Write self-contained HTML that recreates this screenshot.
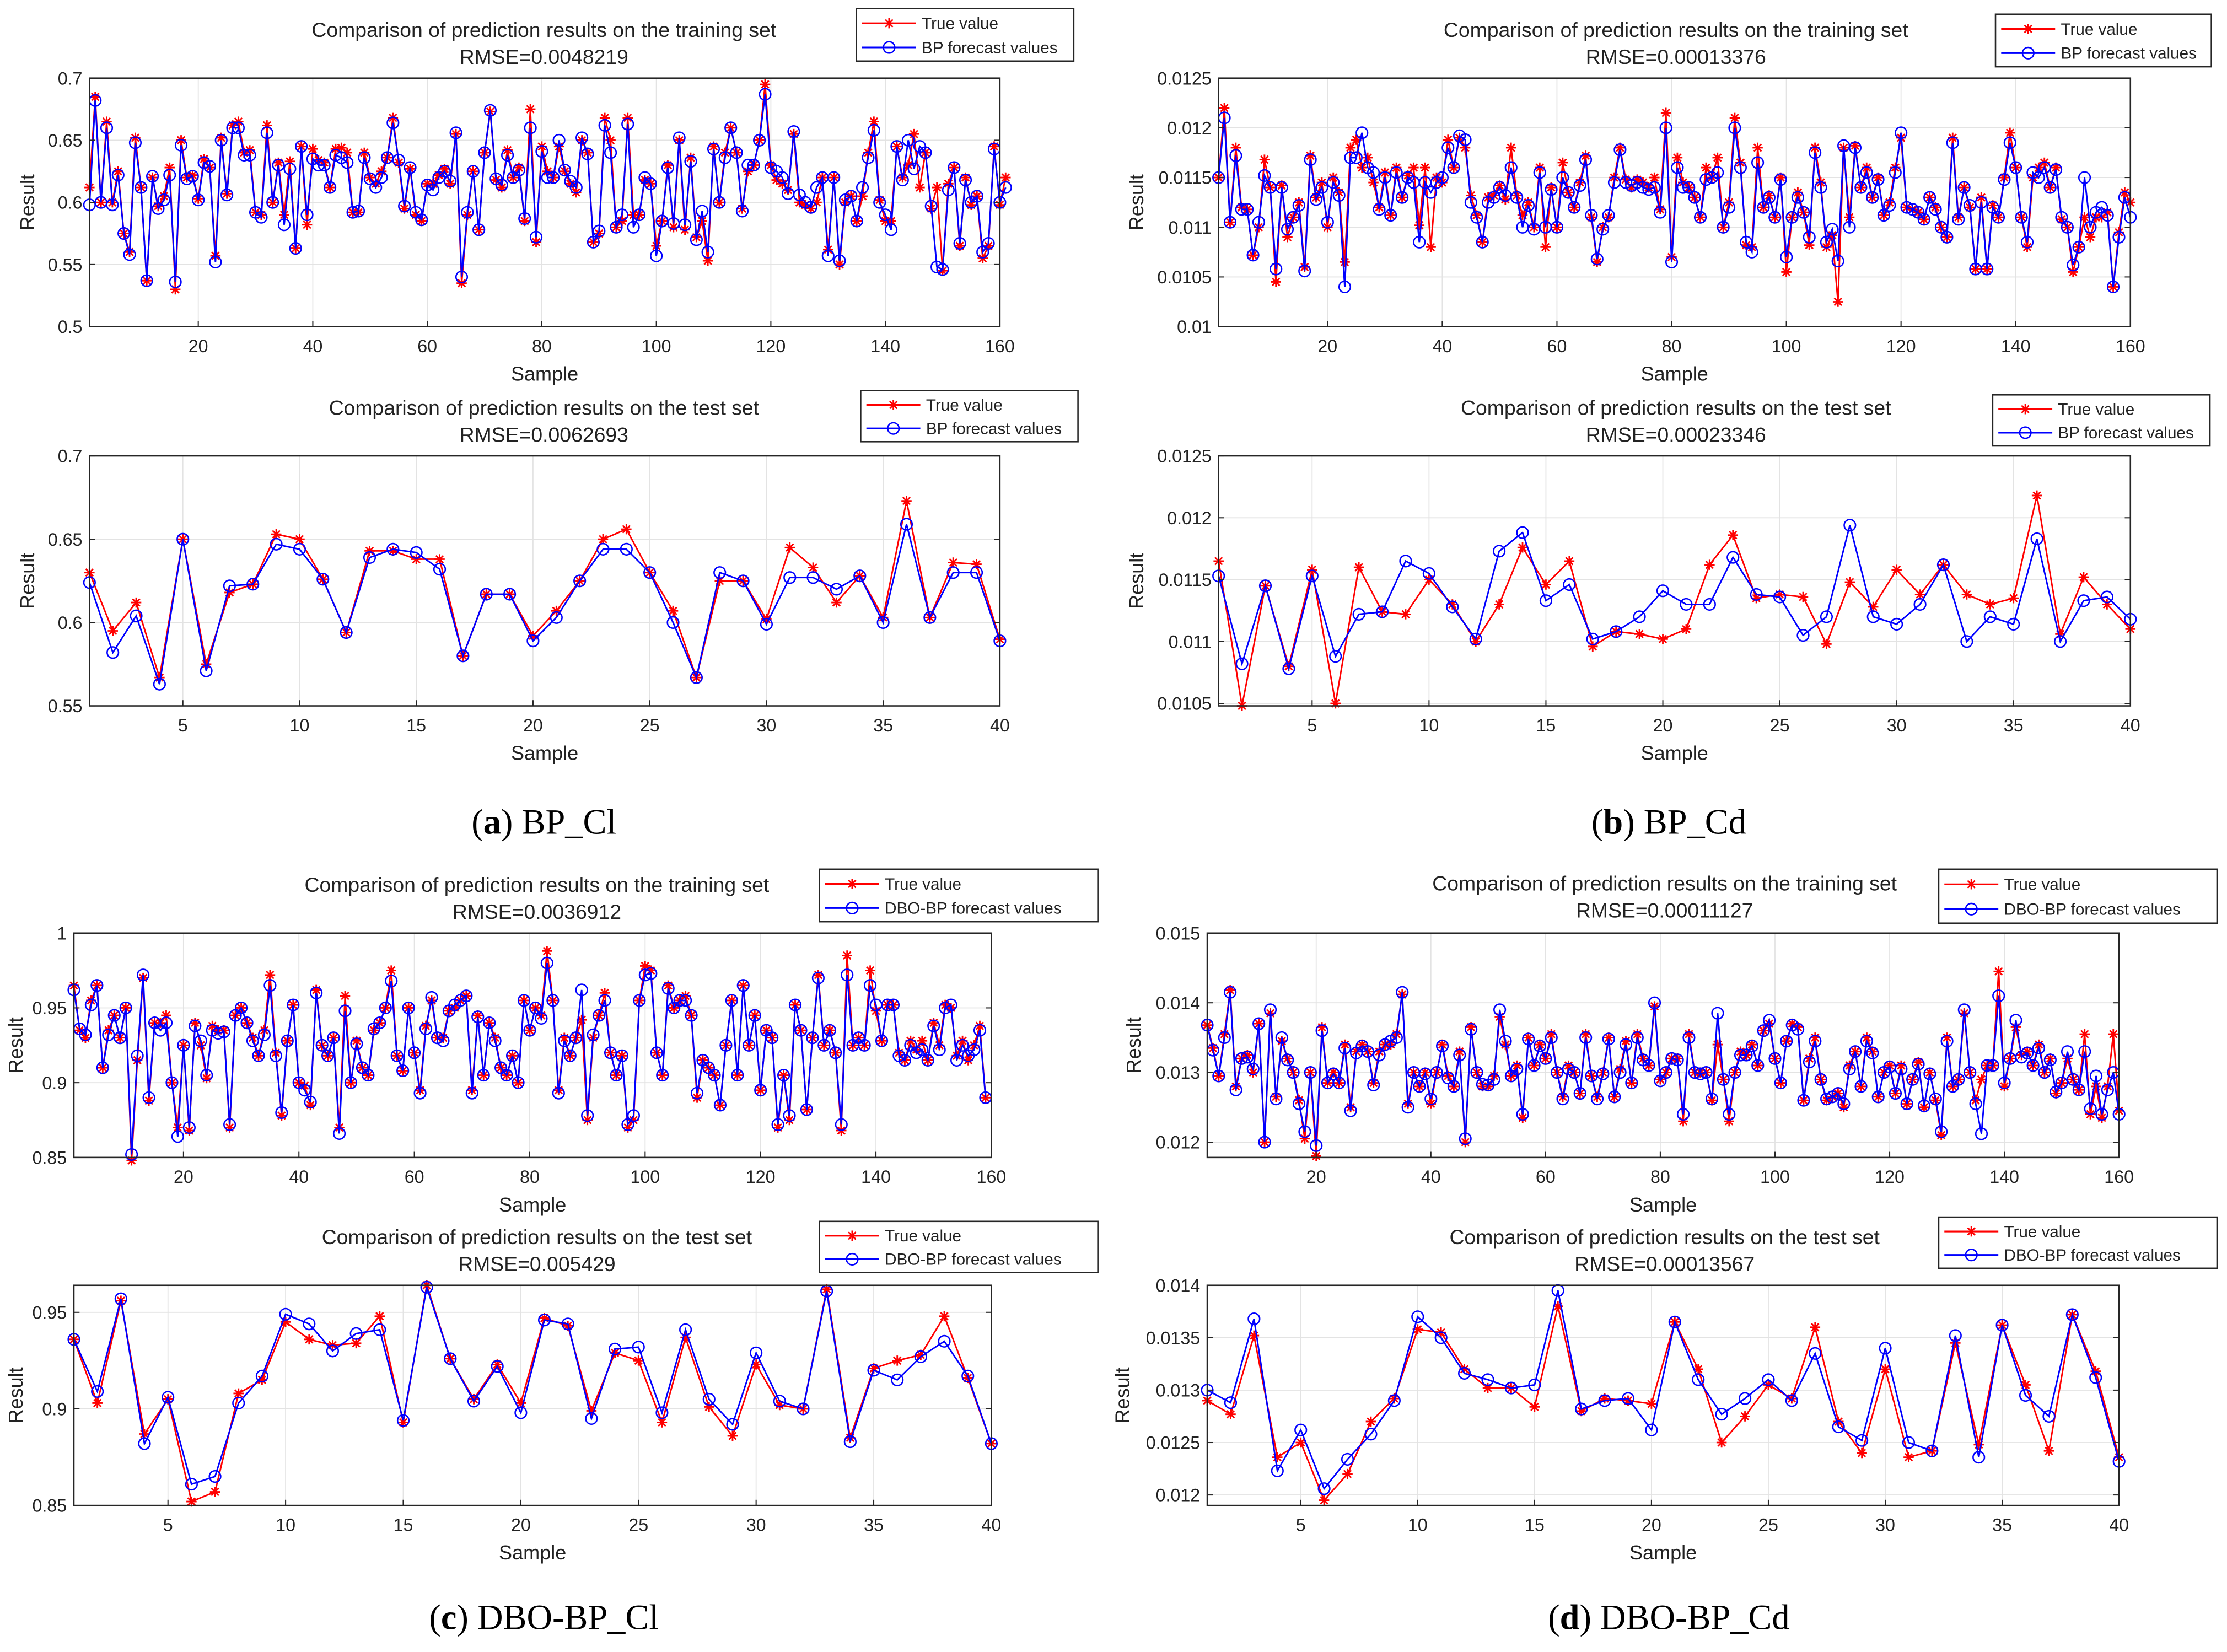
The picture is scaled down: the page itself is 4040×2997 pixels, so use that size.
<!DOCTYPE html>
<html><head><meta charset="utf-8"><title>BP and DBO-BP prediction comparison</title>
<style>
html,body{margin:0;padding:0;background:#fff;}
svg{display:block;}
text{font-family:"Liberation Sans",Arial,sans-serif;fill:#222;}
.cap{font-family:"Liberation Serif","Times New Roman",serif;fill:#000;}
</style></head>
<body>
<svg id="fig" xmlns="http://www.w3.org/2000/svg" width="4040" height="2997" viewBox="0 0 1568 1163.2">
<rect x="0" y="0" width="1568" height="1163.2" fill="#fff"/>
<text class="cap" x="383" y="587" font-size="25" text-anchor="middle">(<tspan font-weight="bold">a</tspan>) BP_Cl</text>
<text class="cap" x="1175" y="587" font-size="25" text-anchor="middle">(<tspan font-weight="bold">b</tspan>) BP_Cd</text>
<text class="cap" x="383" y="1147" font-size="25" text-anchor="middle">(<tspan font-weight="bold">c</tspan>) DBO-BP_Cl</text>
<text class="cap" x="1175" y="1147" font-size="25" text-anchor="middle">(<tspan font-weight="bold">d</tspan>) DBO-BP_Cd</text>
</svg>
<script>
// ---- data ----
const aTrainTrue=[0.612,0.685,0.600,0.665,0.600,0.625,0.575,0.560,0.652,0.612,0.537,0.620,0.597,0.605,0.628,0.530,0.650,0.620,0.622,0.603,0.635,0.628,0.557,0.652,0.607,0.662,0.665,0.640,0.642,0.592,0.590,0.662,0.600,0.632,0.590,0.633,0.563,0.645,0.582,0.643,0.634,0.632,0.612,0.643,0.644,0.640,0.592,0.592,0.640,0.620,0.615,0.625,0.636,0.668,0.632,0.595,0.627,0.590,0.585,0.615,0.615,0.622,0.627,0.615,0.655,0.535,0.590,0.625,0.578,0.640,0.673,0.618,0.612,0.642,0.620,0.628,0.585,0.675,0.568,0.645,0.625,0.620,0.645,0.625,0.615,0.608,0.650,0.640,0.568,0.575,0.668,0.650,0.580,0.585,0.668,0.590,0.590,0.618,0.615,0.565,0.585,0.630,0.580,0.650,0.578,0.636,0.572,0.585,0.553,0.645,0.600,0.640,0.660,0.640,0.595,0.625,0.630,0.650,0.695,0.630,0.618,0.615,0.610,0.655,0.600,0.598,0.595,0.600,0.620,0.562,0.620,0.550,0.600,0.605,0.585,0.605,0.640,0.665,0.602,0.585,0.585,0.645,0.620,0.630,0.655,0.612,0.640,0.595,0.612,0.545,0.615,0.628,0.565,0.620,0.598,0.605,0.555,0.565,0.645,0.598,0.620];
const aTrainPred=[0.598,0.682,0.600,0.660,0.598,0.622,0.575,0.558,0.648,0.612,0.537,0.621,0.595,0.602,0.622,0.536,0.646,0.619,0.621,0.602,0.632,0.629,0.552,0.650,0.606,0.660,0.660,0.638,0.638,0.592,0.588,0.656,0.600,0.630,0.582,0.627,0.563,0.645,0.590,0.635,0.630,0.630,0.612,0.638,0.636,0.632,0.592,0.593,0.636,0.619,0.612,0.620,0.636,0.664,0.634,0.597,0.628,0.592,0.586,0.614,0.610,0.620,0.625,0.617,0.656,0.540,0.592,0.625,0.578,0.640,0.674,0.619,0.614,0.638,0.620,0.626,0.587,0.660,0.572,0.641,0.620,0.620,0.650,0.626,0.617,0.612,0.652,0.639,0.568,0.577,0.662,0.640,0.580,0.590,0.663,0.580,0.590,0.620,0.615,0.557,0.585,0.628,0.583,0.652,0.582,0.633,0.570,0.593,0.560,0.643,0.600,0.636,0.660,0.640,0.593,0.630,0.630,0.650,0.687,0.628,0.625,0.620,0.607,0.657,0.606,0.600,0.596,0.612,0.620,0.557,0.620,0.553,0.602,0.605,0.585,0.612,0.636,0.658,0.600,0.590,0.578,0.645,0.618,0.650,0.627,0.645,0.640,0.597,0.548,0.546,0.610,0.628,0.567,0.618,0.600,0.605,0.560,0.567,0.643,0.600,0.612];
const aTestTrue=[0.630,0.595,0.612,0.567,0.650,0.575,0.618,0.623,0.653,0.650,0.626,0.594,0.643,0.643,0.638,0.638,0.580,0.617,0.617,0.592,0.607,0.625,0.650,0.656,0.630,0.607,0.567,0.625,0.625,0.602,0.645,0.633,0.612,0.628,0.603,0.673,0.603,0.636,0.635,0.590];
const aTestPred=[0.624,0.582,0.604,0.563,0.650,0.571,0.622,0.623,0.647,0.644,0.626,0.594,0.639,0.644,0.642,0.632,0.580,0.617,0.617,0.589,0.603,0.625,0.644,0.644,0.630,0.600,0.567,0.630,0.625,0.599,0.627,0.627,0.620,0.628,0.600,0.659,0.603,0.630,0.630,0.589];

const bTrainTrue=[0.01150,0.01220,0.01105,0.01180,0.01120,0.01118,0.01072,0.01100,0.01168,0.01140,0.01045,0.01142,0.01090,0.01110,0.01125,0.01060,0.01172,0.01130,0.01145,0.01100,0.01150,0.01135,0.01065,0.01180,0.01188,0.01160,0.01170,0.01145,0.01120,0.01155,0.01112,0.01160,0.01130,0.01152,0.01160,0.01102,0.01160,0.01080,0.01150,0.01145,0.01188,0.01160,0.01190,0.01180,0.01132,0.01112,0.01085,0.01130,0.01132,0.01142,0.01128,0.01180,0.01132,0.01112,0.01125,0.01100,0.01160,0.01080,0.01140,0.01100,0.01165,0.01135,0.01120,0.01145,0.01172,0.01110,0.01065,0.01100,0.01110,0.01150,0.01180,0.01148,0.01140,0.01148,0.01145,0.01140,0.01150,0.01118,0.01215,0.01070,0.01170,0.01145,0.01140,0.01130,0.01110,0.01160,0.01150,0.01170,0.01100,0.01125,0.01210,0.01165,0.01082,0.01080,0.01180,0.01120,0.01132,0.01110,0.01150,0.01055,0.01110,0.01135,0.01115,0.01082,0.01180,0.01145,0.01080,0.01092,0.01025,0.01180,0.01110,0.01182,0.01140,0.01160,0.01130,0.01150,0.01112,0.01125,0.01160,0.01190,0.01120,0.01118,0.01115,0.01108,0.01130,0.01120,0.01100,0.01090,0.01190,0.01110,0.01140,0.01120,0.01058,0.01130,0.01058,0.01122,0.01110,0.01150,0.01195,0.01160,0.01110,0.01080,0.01150,0.01160,0.01165,0.01140,0.01160,0.01108,0.01100,0.01055,0.01080,0.01110,0.01090,0.01110,0.01110,0.01115,0.01040,0.01095,0.01135,0.01125];
const bTrainPred=[0.01150,0.01210,0.01105,0.01172,0.01118,0.01118,0.01072,0.01105,0.01152,0.01140,0.01058,0.01140,0.01098,0.01110,0.01122,0.01056,0.01168,0.01128,0.01140,0.01105,0.01145,0.01132,0.01040,0.01170,0.01170,0.01195,0.01160,0.01155,0.01118,0.01150,0.01112,0.01155,0.01130,0.01150,0.01145,0.01085,0.01145,0.01135,0.01145,0.01150,0.01180,0.01160,0.01192,0.01188,0.01125,0.01110,0.01085,0.01125,0.01130,0.01140,0.01132,0.01160,0.01130,0.01100,0.01122,0.01098,0.01155,0.01100,0.01138,0.01100,0.01150,0.01135,0.01120,0.01142,0.01168,0.01112,0.01068,0.01098,0.01112,0.01145,0.01178,0.01145,0.01142,0.01145,0.01140,0.01138,0.01140,0.01115,0.01200,0.01065,0.01160,0.01140,0.01140,0.01130,0.01110,0.01148,0.01150,0.01155,0.01100,0.01120,0.01200,0.01160,0.01085,0.01075,0.01165,0.01120,0.01130,0.01110,0.01148,0.01070,0.01110,0.01130,0.01115,0.01090,0.01175,0.01140,0.01085,0.01098,0.01066,0.01182,0.01100,0.01180,0.01140,0.01155,0.01130,0.01148,0.01112,0.01122,0.01155,0.01195,0.01120,0.01118,0.01115,0.01108,0.01130,0.01118,0.01100,0.01090,0.01185,0.01108,0.01140,0.01122,0.01058,0.01125,0.01058,0.01120,0.01110,0.01148,0.01185,0.01160,0.01110,0.01085,0.01155,0.01150,0.01160,0.01140,0.01158,0.01110,0.01100,0.01062,0.01080,0.01150,0.01100,0.01115,0.01120,0.01112,0.01040,0.01090,0.01130,0.01110];
const bTestTrue=[0.01165,0.01048,0.01145,0.01080,0.01158,0.01050,0.01160,0.01124,0.01122,0.01150,0.01130,0.01100,0.01130,0.01176,0.01146,0.01165,0.01096,0.01108,0.01106,0.01102,0.01110,0.01162,0.01186,0.01135,0.01138,0.01136,0.01098,0.01148,0.01128,0.01158,0.01138,0.01162,0.01138,0.01130,0.01135,0.01218,0.01106,0.01152,0.01130,0.01110];
const bTestPred=[0.01153,0.01082,0.01145,0.01078,0.01153,0.01088,0.01122,0.01124,0.01165,0.01155,0.01128,0.01102,0.01173,0.01188,0.01133,0.01146,0.01102,0.01108,0.01120,0.01141,0.01130,0.01130,0.01168,0.01138,0.01136,0.01105,0.01120,0.01194,0.01120,0.01114,0.01130,0.01162,0.01100,0.01120,0.01114,0.01183,0.01100,0.01133,0.01136,0.01118];

const cTrainTrue=[0.965,0.935,0.930,0.955,0.965,0.910,0.935,0.945,0.930,0.950,0.848,0.915,0.970,0.888,0.940,0.940,0.945,0.900,0.870,0.925,0.868,0.940,0.925,0.903,0.938,0.935,0.935,0.870,0.945,0.950,0.940,0.930,0.918,0.935,0.972,0.920,0.878,0.928,0.952,0.900,0.898,0.885,0.962,0.925,0.918,0.930,0.870,0.958,0.900,0.928,0.910,0.905,0.935,0.940,0.950,0.975,0.918,0.908,0.950,0.920,0.895,0.938,0.955,0.930,0.930,0.948,0.950,0.955,0.958,0.895,0.945,0.905,0.940,0.930,0.910,0.905,0.918,0.900,0.955,0.935,0.950,0.945,0.988,0.955,0.895,0.930,0.918,0.930,0.942,0.875,0.930,0.945,0.960,0.920,0.905,0.918,0.870,0.875,0.955,0.978,0.975,0.920,0.905,0.965,0.950,0.955,0.958,0.945,0.890,0.915,0.910,0.905,0.885,0.925,0.955,0.905,0.965,0.925,0.945,0.895,0.935,0.930,0.870,0.905,0.875,0.952,0.935,0.882,0.930,0.972,0.925,0.935,0.920,0.868,0.985,0.925,0.930,0.925,0.975,0.948,0.928,0.952,0.952,0.920,0.915,0.928,0.922,0.928,0.915,0.940,0.925,0.952,0.950,0.918,0.928,0.915,0.925,0.938,0.890];
const cTrainPred=[0.962,0.936,0.932,0.952,0.965,0.910,0.932,0.945,0.930,0.950,0.852,0.918,0.972,0.890,0.940,0.935,0.940,0.900,0.864,0.925,0.870,0.938,0.928,0.905,0.935,0.933,0.934,0.872,0.945,0.950,0.940,0.928,0.918,0.932,0.965,0.918,0.880,0.928,0.952,0.900,0.895,0.887,0.960,0.925,0.918,0.930,0.866,0.948,0.900,0.926,0.910,0.905,0.936,0.940,0.950,0.968,0.918,0.908,0.950,0.920,0.893,0.936,0.957,0.930,0.928,0.948,0.952,0.955,0.958,0.893,0.944,0.905,0.940,0.928,0.910,0.905,0.918,0.900,0.955,0.935,0.950,0.943,0.980,0.955,0.893,0.928,0.918,0.930,0.962,0.878,0.932,0.945,0.955,0.920,0.905,0.918,0.872,0.878,0.955,0.972,0.973,0.920,0.905,0.963,0.950,0.955,0.955,0.945,0.893,0.915,0.910,0.905,0.885,0.925,0.955,0.905,0.965,0.925,0.945,0.895,0.935,0.930,0.872,0.905,0.878,0.952,0.935,0.882,0.930,0.970,0.925,0.935,0.920,0.872,0.972,0.925,0.930,0.925,0.965,0.952,0.928,0.952,0.952,0.918,0.915,0.925,0.920,0.922,0.915,0.938,0.922,0.950,0.952,0.915,0.925,0.918,0.922,0.935,0.890];
const cTestTrue=[0.936,0.903,0.956,0.887,0.905,0.852,0.857,0.908,0.915,0.945,0.936,0.933,0.934,0.948,0.893,0.964,0.926,0.905,0.923,0.903,0.947,0.943,0.899,0.929,0.925,0.893,0.937,0.901,0.886,0.923,0.902,0.900,0.962,0.885,0.921,0.925,0.928,0.948,0.916,0.882];
const cTestPred=[0.936,0.909,0.957,0.882,0.906,0.861,0.865,0.903,0.917,0.949,0.944,0.930,0.939,0.941,0.894,0.963,0.926,0.904,0.922,0.898,0.946,0.944,0.895,0.931,0.932,0.898,0.941,0.905,0.892,0.929,0.904,0.900,0.961,0.883,0.920,0.915,0.927,0.935,0.917,0.882];

const dTrainTrue=[0.01368,0.01335,0.01295,0.01355,0.01418,0.01280,0.01320,0.01325,0.01300,0.01370,0.01200,0.01385,0.01265,0.01345,0.01320,0.01300,0.01260,0.01205,0.01300,0.01180,0.01365,0.01285,0.01300,0.01285,0.01340,0.01250,0.01330,0.01340,0.01330,0.01285,0.01330,0.01340,0.01340,0.01355,0.01412,0.01255,0.01300,0.01280,0.01300,0.01255,0.01300,0.01340,0.01295,0.01280,0.01330,0.01200,0.01365,0.01300,0.01280,0.01280,0.01295,0.01380,0.01340,0.01295,0.01310,0.01235,0.01350,0.01310,0.01340,0.01320,0.01355,0.01300,0.01265,0.01310,0.01300,0.01270,0.01355,0.01295,0.01265,0.01300,0.01350,0.01265,0.01305,0.01345,0.01285,0.01355,0.01320,0.01310,0.01395,0.01290,0.01300,0.01320,0.01320,0.01230,0.01355,0.01300,0.01300,0.01300,0.01260,0.01340,0.01290,0.01230,0.01300,0.01330,0.01325,0.01340,0.01310,0.01360,0.01370,0.01320,0.01285,0.01345,0.01370,0.01365,0.01260,0.01320,0.01350,0.01290,0.01260,0.01265,0.01270,0.01250,0.01310,0.01330,0.01280,0.01350,0.01330,0.01265,0.01300,0.01310,0.01270,0.01310,0.01255,0.01290,0.01315,0.01250,0.01300,0.01260,0.01210,0.01350,0.01280,0.01290,0.01385,0.01300,0.01260,0.01290,0.01310,0.01310,0.01445,0.01280,0.01320,0.01365,0.01325,0.01330,0.01310,0.01340,0.01300,0.01320,0.01270,0.01285,0.01320,0.01290,0.01275,0.01355,0.01240,0.01280,0.01235,0.01280,0.01355,0.01245];
const dTrainPred=[0.01368,0.01332,0.01295,0.01350,0.01415,0.01275,0.01320,0.01322,0.01305,0.01370,0.01200,0.01390,0.01262,0.01350,0.01318,0.01300,0.01255,0.01215,0.01300,0.01195,0.01360,0.01285,0.01298,0.01285,0.01335,0.01245,0.01328,0.01338,0.01330,0.01282,0.01325,0.01340,0.01345,0.01350,0.01415,0.01250,0.01300,0.01280,0.01298,0.01262,0.01300,0.01338,0.01292,0.01280,0.01325,0.01205,0.01362,0.01300,0.01283,0.01282,0.01290,0.01390,0.01345,0.01295,0.01305,0.01240,0.01348,0.01310,0.01338,0.01320,0.01350,0.01300,0.01262,0.01305,0.01300,0.01270,0.01350,0.01295,0.01262,0.01298,0.01348,0.01265,0.01300,0.01340,0.01285,0.01350,0.01318,0.01310,0.01400,0.01288,0.01300,0.01320,0.01318,0.01240,0.01350,0.01300,0.01298,0.01300,0.01262,0.01385,0.01290,0.01240,0.01300,0.01325,0.01325,0.01338,0.01310,0.01360,0.01375,0.01320,0.01285,0.01345,0.01368,0.01362,0.01260,0.01315,0.01345,0.01290,0.01262,0.01265,0.01270,0.01255,0.01305,0.01330,0.01280,0.01345,0.01328,0.01265,0.01300,0.01308,0.01270,0.01305,0.01255,0.01290,0.01312,0.01252,0.01298,0.01262,0.01215,0.01345,0.01280,0.01290,0.01390,0.01300,0.01255,0.01212,0.01310,0.01310,0.01410,0.01285,0.01320,0.01375,0.01322,0.01328,0.01310,0.01335,0.01300,0.01318,0.01272,0.01285,0.01330,0.01290,0.01275,0.01330,0.01248,0.01295,0.01240,0.01275,0.01300,0.01240];
const dTestTrue=[0.01290,0.01277,0.01352,0.01236,0.01250,0.01195,0.01220,0.01270,0.01292,0.01358,0.01355,0.01320,0.01302,0.01302,0.01284,0.01380,0.01280,0.01292,0.01290,0.01287,0.01365,0.01320,0.01250,0.01275,0.01305,0.01292,0.01360,0.01270,0.01240,0.01320,0.01236,0.01242,0.01345,0.01248,0.01362,0.01305,0.01242,0.01372,0.01318,0.01236];
const dTestPred=[0.01300,0.01288,0.01368,0.01223,0.01262,0.01206,0.01234,0.01258,0.01290,0.01370,0.01350,0.01316,0.01310,0.01302,0.01305,0.01395,0.01282,0.01290,0.01292,0.01262,0.01365,0.01310,0.01277,0.01292,0.01310,0.01290,0.01335,0.01265,0.01252,0.01340,0.01250,0.01242,0.01352,0.01236,0.01362,0.01295,0.01275,0.01372,0.01312,0.01232];

const trainXTicks=[20,40,60,80,100,120,140,160];
const testXTicks=[5,10,15,20,25,30,35,40];
const aTrainYTicks=[0.5,0.55,0.6,0.65,0.7];
const aTestYTicks=[0.55,0.6,0.65,0.7];
const bTrainYTicks=[0.01,0.0105,0.011,0.0115,0.012,0.0125];
const bTestYTicks=[0.0105,0.011,0.0115,0.012,0.0125];
const cTrainYTicks=[0.85,0.9,0.95,1];
const cTestYTicks=[0.85,0.9,0.95];
const dTrainYTicks=[0.012,0.013,0.014,0.015];
const dTestYTicks=[0.012,0.0125,0.013,0.0135,0.014];

// ---- drawing ----
const NS="http://www.w3.org/2000/svg";
const svg=document.getElementById('fig');
function mk(tag,attrs,parent){const e=document.createElementNS(NS,tag);for(const k in attrs)e.setAttribute(k,attrs[k]);(parent||svg).appendChild(e);return e;}
function txt(s,attrs,parent){const e=mk('text',attrs,parent);e.textContent=s;return e;}
function star(g,x,y,col){
  const r=3.6;
  mk('path',{d:`M${x-r},${y}H${x+r}M${x},${y-r}V${y+r}M${x-r*0.72},${y-r*0.72}L${x+r*0.72},${y+r*0.72}M${x-r*0.72},${y+r*0.72}L${x+r*0.72},${y-r*0.72}`,stroke:col,'stroke-width':1.1,fill:'none'},g);
}
function panel(p){
  const g=mk('g',{});
  
  
  const sx=v=>p.x0+(v-p.xmin)/(p.xmax-p.xmin)*(p.x1-p.x0);
  const sy=v=>p.y1-(v-p.ymin)/(p.ymax-p.ymin)*(p.y1-p.y0);
  const grid=mk('g',{},g);
  
  
  p.xt.forEach(t=>{const x=sx(t);mk('line',{x1:x,x2:x,y1:p.y0,y2:p.y1,stroke:'#e3e3e3','stroke-width':0.7},grid);});
  p.yt.forEach(t=>{const y=sy(t);mk('line',{x1:p.x0,x2:p.x1,y1:y,y2:y,stroke:'#e3e3e3','stroke-width':0.7},grid);});
  const tp=p.t.map((v,i)=>`${sx(i+1).toFixed(2)},${sy(v).toFixed(2)}`).join(' ');
  const pp=p.p.map((v,i)=>`${sx(i+1).toFixed(2)},${sy(v).toFixed(2)}`).join(' ');
  const sT=mk('g',{},g);
  
  
  mk('polyline',{points:tp,fill:'none',stroke:'#ff0000','stroke-width':1.1},sT);
  p.t.forEach((v,i)=>star(sT,sx(i+1),sy(v),'#ff0000'));
  const sP=mk('g',{},g);
  
  
  mk('polyline',{points:pp,fill:'none',stroke:'#0000ff','stroke-width':1.1},sP);
  p.p.forEach((v,i)=>mk('circle',{cx:sx(i+1),cy:sy(v),r:4,fill:'none',stroke:'#0000ff','stroke-width':1},sP));
  const ax=mk('rect',{x:p.x0,y:p.y0,width:p.x1-p.x0,height:p.y1-p.y0,fill:'none',stroke:'#262626','stroke-width':1},g);
  
  
  p.xt.forEach(t=>{const x=sx(t);
    mk('line',{x1:x,x2:x,y1:p.y1,y2:p.y1-4,stroke:'#262626','stroke-width':0.8},g);
    const l=txt(String(t),{x:x,y:p.y1+18,'font-size':12.5,'text-anchor':'middle'},g);
    
    });
  p.yt.forEach(t=>{const y=sy(t);
    mk('line',{x1:p.x0,x2:p.x0+4,y1:y,y2:y,stroke:'#262626','stroke-width':0.8},g);
    mk('line',{x1:p.x1,x2:p.x1-4,y1:y,y2:y,stroke:'#262626','stroke-width':0.8},g);
    const l=txt(String(t),{x:p.x0-5,y:y+4.5,'font-size':12.5,'text-anchor':'end'},g);
    
    });
  const xl=txt('Sample',{x:(p.x0+p.x1)/2,y:p.y1+38,'font-size':14,'text-anchor':'middle'},g);
  
  
  const yx=p.ylx,yy=(p.y0+p.y1)/2;
  const yl=txt('Result',{x:yx,y:yy,'font-size':14,'text-anchor':'middle',transform:`rotate(-90 ${yx} ${yy})`},g);
  
  
  const t1=txt(p.title,{x:p.tx,y:p.ty,'font-size':14.5,'text-anchor':'middle'},g);
  
  
  const t2=txt(p.rmse,{x:p.tx,y:p.ty+19,'font-size':14.5,'text-anchor':'middle'},g);
  
  
  const lg=mk('g',{},g);
  
  
  mk('rect',{x:p.lx,y:p.ly,width:p.lw,height:p.lh,fill:'#fff',stroke:'#262626','stroke-width':1},lg);
  const r1=p.ly+p.lh*0.28,r2=p.ly+p.lh*0.74;
  mk('line',{x1:p.lx+4,x2:p.lx+42,y1:r1,y2:r1,stroke:'#ff0000','stroke-width':1.2},lg);
  star(lg,p.lx+23,r1,'#ff0000');
  mk('line',{x1:p.lx+4,x2:p.lx+42,y1:r2,y2:r2,stroke:'#0000ff','stroke-width':1.2},lg);
  mk('circle',{cx:p.lx+23,cy:r2,r:4,fill:'none',stroke:'#0000ff','stroke-width':1},lg);
  const e1=txt('True value',{x:p.lx+46,y:r1+4,'font-size':11.5},lg);
  
  
  const e2=txt(p.predLabel,{x:p.lx+46,y:r2+4,'font-size':11.5},lg);
  
  
}
const TR='Comparison of prediction results on the training set';
const TE='Comparison of prediction results on the test set';
panel({name:'bp-cl-train-chart',x0:63,x1:704,y0:55,y1:230,xmin:1,xmax:160,ymin:0.5,ymax:0.7,xt:trainXTicks,yt:aTrainYTicks,t:aTrainTrue,p:aTrainPred,title:TR,rmse:'RMSE=0.0048219',tx:383,ty:26,lx:603,ly:6,lw:153,lh:37,predLabel:'BP forecast values',ylx:24});
panel({name:'bp-cl-test-chart',x0:63,x1:704,y0:321,y1:497,xmin:1,xmax:40,ymin:0.55,ymax:0.7,xt:testXTicks,yt:aTestYTicks,t:aTestTrue,p:aTestPred,title:TE,rmse:'RMSE=0.0062693',tx:383,ty:292,lx:606,ly:275,lw:153,lh:36,predLabel:'BP forecast values',ylx:24});
panel({name:'bp-cd-train-chart',x0:858,x1:1500,y0:55,y1:230,xmin:1,xmax:160,ymin:0.01,ymax:0.0125,xt:trainXTicks,yt:bTrainYTicks,t:bTrainTrue,p:bTrainPred,title:TR,rmse:'RMSE=0.00013376',tx:1180,ty:26,lx:1405,ly:10,lw:152,lh:37,predLabel:'BP forecast values',ylx:805});
panel({name:'bp-cd-test-chart',x0:858,x1:1500,y0:321,y1:497,xmin:1,xmax:40,ymin:0.01048,ymax:0.0125,xt:testXTicks,yt:bTestYTicks,t:bTestTrue,p:bTestPred,title:TE,rmse:'RMSE=0.00023346',tx:1180,ty:292,lx:1403,ly:278,lw:153,lh:36,predLabel:'BP forecast values',ylx:805});
panel({name:'dbo-bp-cl-train-chart',x0:52,x1:698,y0:657,y1:815,xmin:1,xmax:160,ymin:0.85,ymax:1,xt:trainXTicks,yt:cTrainYTicks,t:cTrainTrue,p:cTrainPred,title:TR,rmse:'RMSE=0.0036912',tx:378,ty:628,lx:577,ly:612,lw:196,lh:37,predLabel:'DBO-BP forecast values',ylx:16});
panel({name:'dbo-bp-cl-test-chart',x0:52,x1:698,y0:905,y1:1060,xmin:1,xmax:40,ymin:0.85,ymax:0.964,xt:testXTicks,yt:cTestYTicks,t:cTestTrue,p:cTestPred,title:TE,rmse:'RMSE=0.005429',tx:378,ty:876,lx:577,ly:860,lw:196,lh:36,predLabel:'DBO-BP forecast values',ylx:16});
panel({name:'dbo-bp-cd-train-chart',x0:850,x1:1492,y0:657,y1:815,xmin:1,xmax:160,ymin:0.01178,ymax:0.015,xt:trainXTicks,yt:dTrainYTicks,t:dTrainTrue,p:dTrainPred,title:TR,rmse:'RMSE=0.00011127',tx:1172,ty:627,lx:1365,ly:612,lw:196,lh:38,predLabel:'DBO-BP forecast values',ylx:803});
panel({name:'dbo-bp-cd-test-chart',x0:850,x1:1492,y0:905,y1:1060,xmin:1,xmax:40,ymin:0.0119,ymax:0.014,xt:testXTicks,yt:dTestYTicks,t:dTestTrue,p:dTestPred,title:TE,rmse:'RMSE=0.00013567',tx:1172,ty:876,lx:1365,ly:857,lw:196,lh:36,predLabel:'DBO-BP forecast values',ylx:795});
</script>
</body></html>
